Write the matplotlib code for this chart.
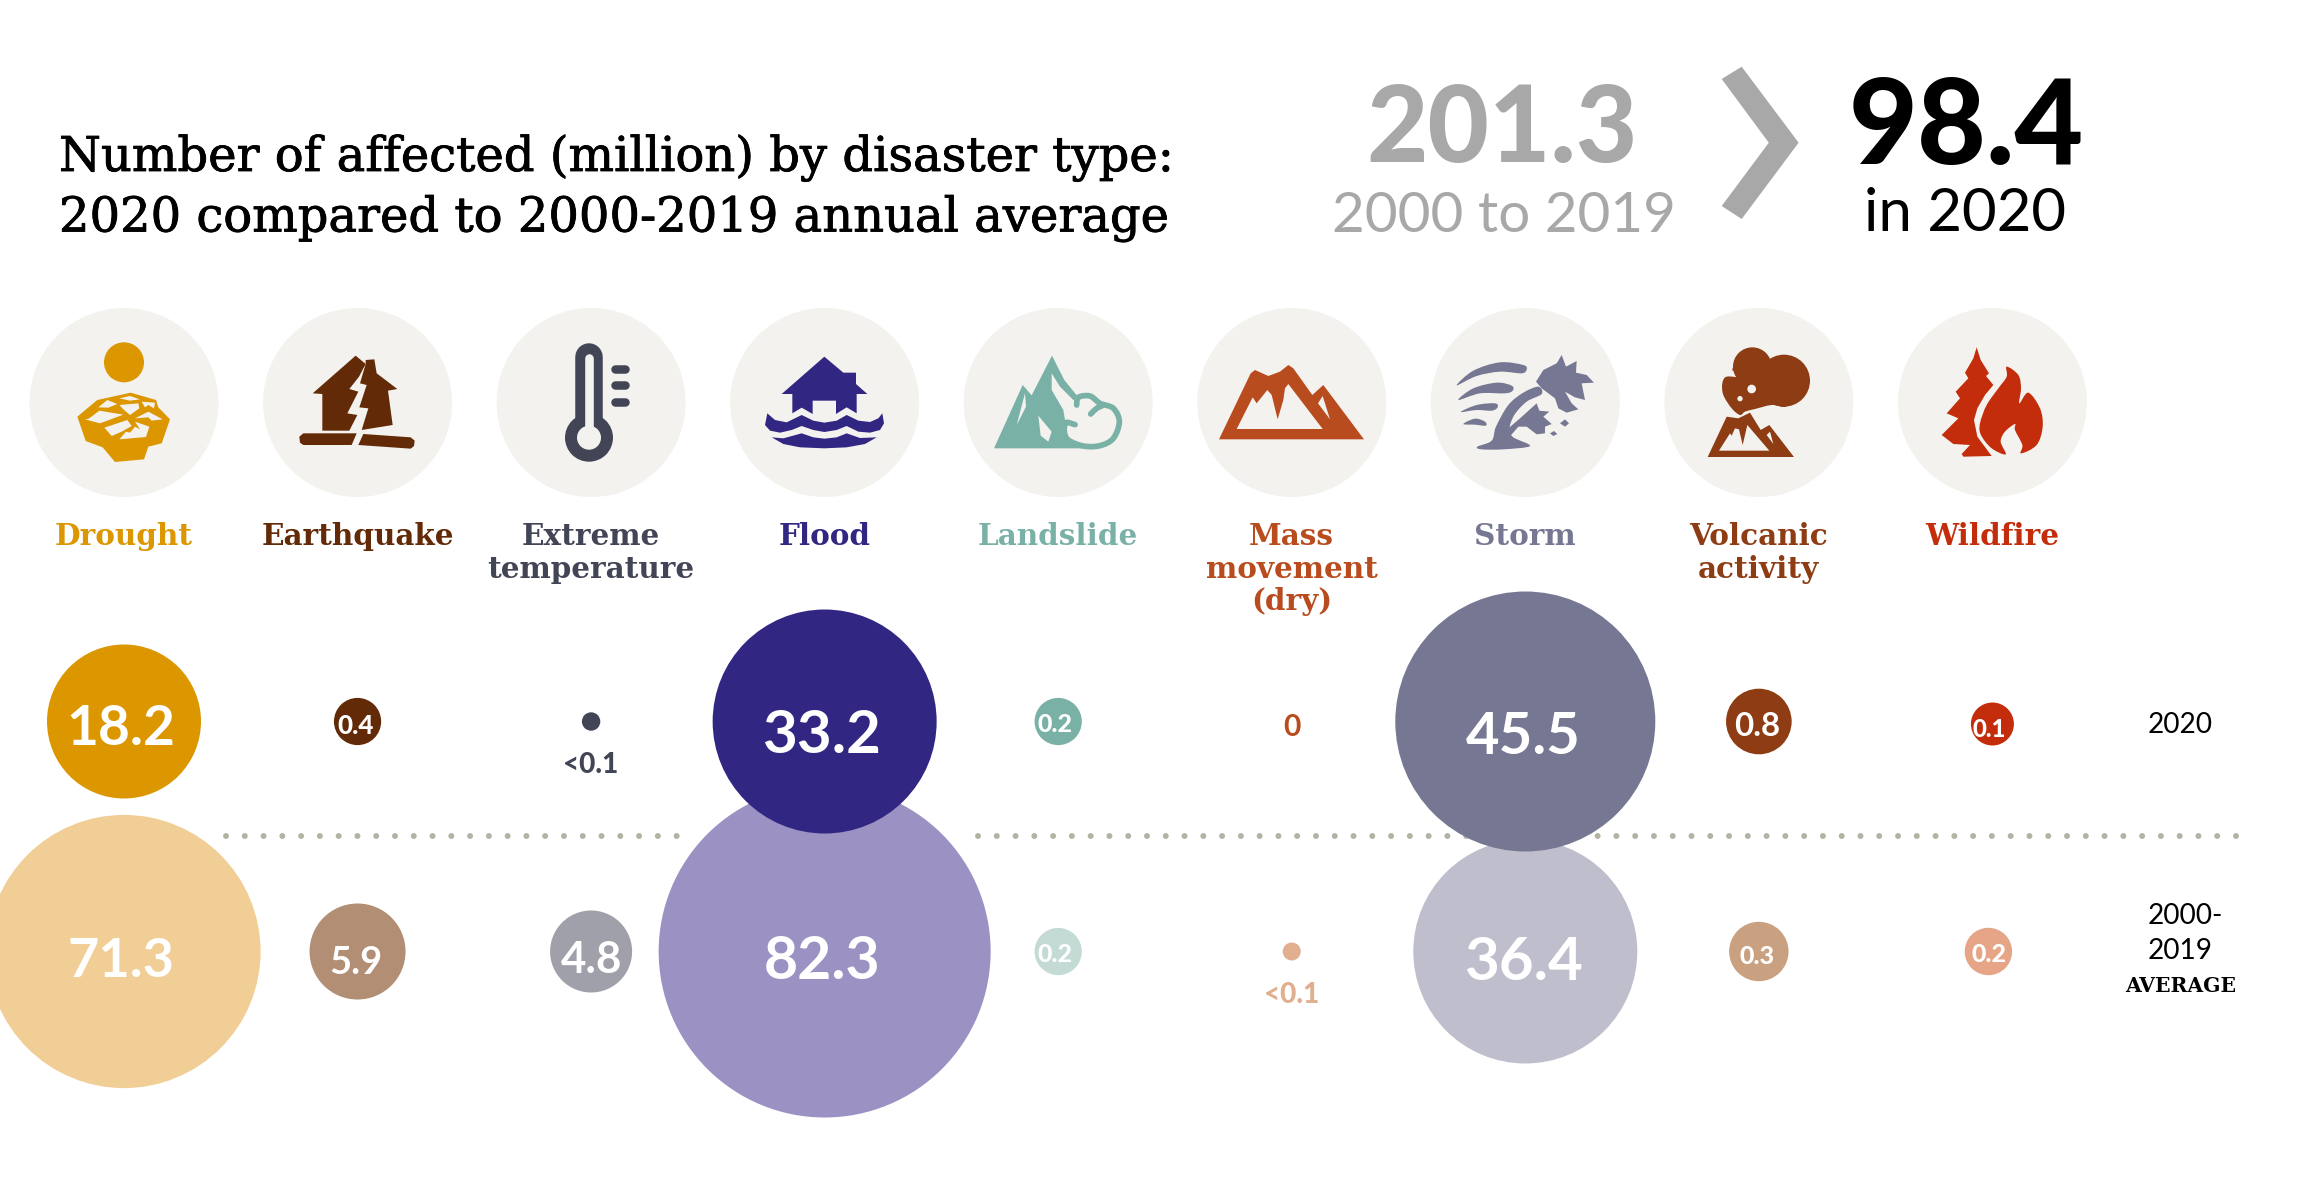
"""Number of people affected by disaster type: 2020 against the 2000-2019 average"""

from matplotlib import pyplot as plt
from matplotlib.patches import Circle, Polygon, PathPatch
from matplotlib.path import Path
import matplotlib.patheffects as pe

# Data
categories = ['Drought', 'Earthquake', 'Extreme\ntemperature', 'Flood', 'Landslide',
              'Mass\nmovement\n(dry)', 'Storm', 'Volcanic\nactivity', 'Wildfire']
labels_2020 = ['18.2', '0.4', '<0.1', '33.2', '0.2', '0', '45.5', '0.8', '0.1']
labels_avg = ['71.3', '5.9', '4.8', '82.3', '0.2', '<0.1', '36.4', '0.3', '0.2']
# bubble radius as measured, the source does not scale them strictly by value
radius_2020 = [77, 23.6, 9.2, 112, 23.6, 0, 130, 32.8, 21.5]
radius_avg = [136.6, 48, 41, 166, 23.6, 9, 112, 29.7, 23.7]
total_avg = '201.3'
total_2020 = '98.4'

# Colours
colors_2020 = ['#DC9600', '#622A06', '#424555', '#312783', '#7AB1A7',
               '#B94C1E', '#767792', '#8D3C13', '#C42D0C']
colors_avg = ['#F1CE96', '#B28E75', '#A0A0AA', '#9C91C3', '#C3DAD5',
              '#E2AE90', '#BFBECC', '#C9A080', '#E6A587']
icon_bg = '#F3F2EE'
grey = '#A8A8A8'
dot_color = '#B2B3A3'

# Layout in pixels
W, H = 2303, 1181
col_x = [124 + 233.55 * i for i in range(9)]
row_2020, row_avg = 721.5, 951.5
# label size (px) and the point the digits are centred on
size_2020 = [55, 26, 28, 60, 25, 30, 58, 33, 24]
size_avg = [54, 38, 44, 59, 25, 28, 60, 25, 25]
label_y_2020 = [725, 725, 763, 731, 723.5, 725, 733, 724, 728]
label_y_avg = [958, 960, 957, 958, 953, 993, 958, 955, 953]
label_dx = [-3, -2, 0, -3, -3, 0, -2, -2, -3]

SLAB = 'DejaVu Serif'
SANS = 'Lato'


def px(n):
    # figure is at 100 dpi, so one pixel is 0.72 pt
    return n * 0.72


def smooth_path(pts, closed=True):
    # Catmull-Rom through the points, written as bezier segments
    n = len(pts)
    verts, codes = [pts[0]], [Path.MOVETO]
    for i in range(n if closed else n - 1):
        if closed:
            p0, p1, p2, p3 = pts[i - 1], pts[i], pts[(i + 1) % n], pts[(i + 2) % n]
        else:
            p0, p1, p2, p3 = pts[max(i - 1, 0)], pts[i], pts[i + 1], pts[min(i + 2, n - 1)]
        c1 = (p1[0] + (p2[0] - p0[0]) / 6, p1[1] + (p2[1] - p0[1]) / 6)
        c2 = (p2[0] - (p3[0] - p1[0]) / 6, p2[1] - (p3[1] - p1[1]) / 6)
        verts += [c1, c2, p2]
        codes += [Path.CURVE4] * 3
    return Path(verts, codes)


fig = plt.figure(figsize=(W / 100, H / 100), dpi=100)
ax = fig.add_axes([0, 0, 1, 1])
ax.set_xlim(0, W)
ax.set_ylim(H, 0)
ax.axis('off')


def zoomed(pts, x0):
    # icon outlines were traced on a 3x crop starting at (x0, 320)
    return [(x0 + a / 3, 320 + b / 3) for a, b in pts]


def poly(pts, x0, color, z=3):
    ax.add_patch(Polygon(zoomed(pts, x0), closed=True, fc=color, ec='none', zorder=z))


def blob(pts, x0, color, z=3):
    ax.add_patch(PathPatch(smooth_path(zoomed(pts, x0)), fc=color, ec='none', zorder=z))


def stroke(pts, x0, color, lw, z=3):
    ax.add_patch(PathPatch(smooth_path(zoomed(pts, x0), closed=False), fc='none', ec=color,
                           lw=px(lw), capstyle='round', zorder=z))


def dot(a, b, r, x0, color, z=3):
    ax.add_patch(Circle((x0 + a / 3, 320 + b / 3), r / 3, fc=color, ec='none', zorder=z))


# Title and headline numbers, a thin outline gives the title the weight of the original
title_fx = [pe.withStroke(linewidth=0.6, foreground='black')]
ax.text(59, 171, 'Number of affected (million) by disaster type:', fontsize=px(48),
        family=SLAB, va='baseline', ha='left', path_effects=title_fx)
ax.text(59, 231.5, '2020 compared to 2000-2019 annual average', fontsize=px(48),
        family=SLAB, va='baseline', ha='left', path_effects=title_fx)

ax.text(1502, 162, total_avg, fontsize=px(106), family=SANS, weight='black', color=grey,
        ha='center', va='baseline')
ax.text(1504, 232, '2000 to 2019', fontsize=px(56.5), family=SANS, weight='normal', color=grey,
        ha='center', va='baseline')
ax.add_patch(Polygon([(1721.7, 79), (1741.7, 66.7), (1798.6, 142.7), (1741.7, 219),
                      (1721.7, 206), (1768.8, 142.7)], closed=True, fc=grey, ec='none'))
ax.text(1966, 164, total_2020, fontsize=px(119), family=SANS, weight='black', color='black',
        ha='center', va='baseline')
ax.text(1965, 231, 'in 2020', fontsize=px(60), family=SANS, weight='normal', color='black',
        ha='center', va='baseline')

# Icon discs and category names
for x, name, c in zip(col_x, categories, colors_2020):
    ax.add_patch(Circle((x, 402.5), 94.5, fc=icon_bg, ec='none', zorder=2))
    ax.text(x, 545, name.split('\n')[0], fontsize=px(29.5), family=SLAB, weight='bold', color=c,
            ha='center', va='baseline')
    for k, line in enumerate(name.split('\n')[1:], start=1):
        ax.text(x, 545 + 32.7 * k, line, fontsize=px(29.5), family=SLAB, weight='bold', color=c,
                ha='center', va='baseline')

# Drought
c = colors_2020[0]
dot(312, 127, 60, 20, c)
poly([(172, 290), (232, 240), (332, 218), (408, 240), (415, 262), (450, 298), (425, 370), (385, 380),
      (372, 418), (285, 426), (248, 382), (197, 363)], 20, c)
for crack in [[(205, 297), (238, 272), (310, 284), (240, 310), (195, 298), (238, 292)],
              [(253, 323), (322, 300), (335, 318), (305, 335), (275, 348)],
              [(298, 358), (318, 335), (330, 338), (345, 320), (360, 328), (345, 305), (388, 320), (378, 351)],
              [(298, 255), (355, 250), (358, 265), (330, 285), (310, 268)],
              [(298, 235), (330, 228), (360, 238), (330, 242)],
              [(235, 262), (262, 240), (292, 252), (265, 263)],
              [(365, 245), (405, 248), (402, 265), (385, 255), (375, 262)],
              [(345, 295), (385, 275), (428, 298), (395, 302), (385, 292)]]:
    poly(crack, 20, icon_bg, 4)

# Earthquake
c = colors_2020[1]
poly([(878, 220), (1007, 107), (1037, 132), (1017, 170), (988, 207), (1015, 215), (982, 280), (1012, 285),
      (988, 332), (907, 332), (907, 222)], 20, c)
poly([(1037, 132), (1037, 120), (1063, 118), (1070, 160), (1132, 207), (1104, 212), (1118, 315), (1025, 330),
      (1045, 265), (1018, 262), (1040, 195), (1020, 190)], 20, c)
poly([(850, 340), (1010, 340), (995, 375), (850, 375), (840, 368), (838, 350)], 20, c)
poly([(1030, 342), (1172, 352), (1184, 362), (1182, 378), (1172, 386), (1015, 375)], 20, c)

# Extreme temperature, drawn directly in pixels
c = colors_2020[2]
tx = 589
ax.plot([tx, tx], [357, 420], color=c, lw=px(27.5), solid_capstyle='round', zorder=3)
ax.add_patch(Circle((tx, 437.7), 24, fc=c, ec='none', zorder=3))
ax.plot([tx, tx], [358, 430], color=icon_bg, lw=px(8.6), solid_capstyle='round', zorder=4)
ax.add_patch(Circle((tx, 437.7), 12, fc=icon_bg, ec='none', zorder=4))
for ty in [368.7, 385.3, 402]:
    ax.plot([615, 624.5], [ty, ty], color=c, lw=px(8.5), solid_capstyle='round', zorder=3)

# Flood
c = colors_2020[3]
poly([(155, 222), (283, 110), (340, 158), (378, 158), (378, 192), (412, 222), (380, 222), (380, 280),
      (350, 262), (318, 282), (318, 242), (248, 242), (248, 282), (215, 263), (187, 280), (187, 222)], 730, c)
poly([(112, 280), (135, 300), (170, 307), (215, 285), (250, 302), (283, 308), (320, 302), (350, 285),
      (385, 302), (420, 306), (445, 295), (457, 280), (462, 310), (450, 330), (420, 338), (385, 335),
      (350, 318), (320, 330), (283, 336), (250, 330), (215, 318), (185, 330), (150, 338), (120, 332),
      (105, 315)], 730, c)
poly([(125, 352), (160, 355), (215, 340), (250, 352), (283, 356), (320, 352), (350, 340), (390, 354),
      (440, 352), (405, 372), (350, 382), (283, 385), (210, 382), (160, 372)], 730, c)

# Landslide
c = colors_2020[4]
poly([(792, 385), (878, 195), (905, 226), (966, 107), (1003, 180), (1045, 232), (1030, 240), (990, 200),
      (965, 160), (965, 210), (1000, 270), (1005, 300), (1003, 345), (1020, 370), (1060, 385)], 730, c)
poly([(860, 315), (885, 220), (888, 260)], 730, icon_bg, 4)
poly([(925, 287), (965, 335), (955, 365), (932, 347)], 730, icon_bg, 4)
stroke([(1040, 255), (1045, 232), (1080, 228), (1110, 250), (1150, 265), (1168, 305), (1150, 355),
        (1110, 377), (1060, 378), (1015, 360), (1003, 335), (1008, 308), (1035, 314)], 730, c, 5.7)
stroke([(1082, 282), (1100, 265), (1115, 258)], 730, c, 5.7)

# Mass movement
c = colors_2020[5]
poly([(117, 358), (212, 160), (225, 150), (265, 168), (300, 155), (325, 135), (340, 145), (397, 225),
      (430, 195), (552, 358)], 1180, c)
poly([(170, 327), (218, 232), (230, 250), (262, 210), (275, 225), (293, 298), (310, 240), (315, 205),
      (325, 192), (428, 327)], 1180, icon_bg, 4)
poly([(414, 250), (428, 228), (450, 298)], 1180, icon_bg, 4)

# Storm
c = colors_2020[6]
blob([(830, 196), (880, 152), (960, 127), (1030, 135), (1040, 148), (1025, 160), (960, 155), (890, 168)], 1180, c)
blob([(835, 240), (880, 205), (950, 188), (995, 197), (998, 212), (975, 220), (900, 220)], 1180, c)
blob([(842, 276), (890, 255), (945, 250), (953, 262), (935, 272), (890, 270)], 1180, c)
blob([(850, 312), (885, 296), (915, 305), (917, 317), (885, 314)], 1180, c)
blob([(892, 380), (935, 362), (948, 320), (985, 255), (1030, 218), (1075, 200), (1085, 222), (1040, 245),
      (1003, 285), (988, 328), (1000, 352), (1050, 378), (970, 388), (905, 388)], 1180, c)
poly([(1068, 185), (1090, 150), (1130, 130), (1145, 105), (1158, 140), (1190, 123), (1188, 158), (1220, 165),
      (1242, 188), (1205, 190), (1215, 240), (1185, 232), (1155, 215), (1175, 250), (1195, 268), (1160, 278),
      (1135, 265), (1125, 235), (1085, 205)], 1180, c)
poly([(1020, 295), (1070, 250), (1078, 272), (1108, 275), (1090, 290), (1115, 312), (1095, 320), (1095, 340),
      (1070, 343), (1040, 320), (1015, 320), (985, 355), (985, 325)], 1180, c)
poly([(1140, 310), (1155, 298), (1167, 310), (1155, 320)], 1180, c)
poly([(1110, 340), (1122, 333), (1132, 342), (1120, 348)], 1180, c)

# Volcanic activity
c = colors_2020[7]
dot(187, 140, 58, 1690, c)
dot(282, 182, 78, 1690, c)
blob([(127, 150), (150, 120), (225, 120), (280, 200), (290, 258), (245, 255), (195, 267), (165, 275),
      (150, 285), (125, 265), (100, 225), (97, 190), (110, 170), (155, 172), (150, 155)], 1690, c)
dot(185, 207, 13, 1690, icon_bg, 4)
dot(150, 236, 8, 1690, icon_bg, 4)
poly([(53, 411), (110, 290), (145, 295), (180, 278), (212, 330), (238, 315), (312, 411)], 1690, c)
poly([(87, 392), (120, 340), (125, 347), (135, 325), (147, 328), (158, 375), (172, 315), (238, 392)], 1690, icon_bg, 4)
poly([(230, 345), (240, 335), (250, 372)], 1690, icon_bg, 4)

# Wildfire
c = colors_2020[8]
poly([(860, 82), (872, 120), (897, 160), (888, 168), (910, 195), (885, 225), (862, 265), (852, 300), (862, 350),
      (905, 408), (820, 410), (815, 402), (840, 375), (790, 372), (755, 345), (790, 310), (805, 295), (770, 280),
      (810, 235), (797, 215), (835, 175), (825, 158), (850, 115)], 1690, c)
blob([(950, 140), (985, 165), (993, 205), (988, 250), (1015, 218), (1050, 265), (1058, 320), (1040, 375),
      (993, 400), (997, 375), (975, 330), (975, 312), (945, 335), (932, 365), (947, 403), (905, 385), (873, 345),
      (870, 310), (890, 255), (925, 205), (950, 170)], 1690, c)

# Dotted separator, the bubbles sit on top of it
for x_from, x_to in [(226, 678), (978, 2236)]:
    ax.plot([x_from, x_to], [836, 836], color=dot_color, lw=px(6), dash_capstyle='round',
            linestyle=(0, (0.001, 18.77 / 6)), zorder=1)

# Bubbles: the average row first, 2020 overlaps it
nudge_2020 = {8: (0, 2.5)}
nudge_avg = {8: (-4, 0)}
for i, x in enumerate(col_x):
    dx, dy = nudge_avg.get(i, (0, 0))
    ax.add_patch(Circle((x + dx, row_avg + dy), radius_avg[i], fc=colors_avg[i], ec='none', zorder=5))
    dx, dy = nudge_2020.get(i, (0, 0))
    if radius_2020[i] > 0:
        ax.add_patch(Circle((x + dx, row_2020 + dy), radius_2020[i], fc=colors_2020[i], ec='none', zorder=6))


def bubble_label(x, y, text, size, color):
    # centred on the digits so baseline = centre + 0.36 em; small ones are heavier
    ax.text(x, y + 0.36 * size, text, fontsize=px(size), family=SANS,
            weight='black' if size < 30 else 'bold', color=color, ha='center', va='baseline', zorder=7)


for i, x in enumerate(col_x):
    outside = labels_2020[i] in ('<0.1', '0')
    bubble_label(x + label_dx[i], label_y_2020[i], labels_2020[i], size_2020[i],
                 colors_2020[i] if outside else 'white')
    outside = labels_avg[i] == '<0.1'
    bubble_label(x + label_dx[i], label_y_avg[i], labels_avg[i], size_avg[i],
                 colors_avg[i] if outside else 'white')

# Row names on the right
ax.text(2180, 733, '2020', fontsize=px(28), family=SANS, ha='center', va='baseline')
ax.text(2185, 924, '2000-', fontsize=px(28), family=SANS, ha='center', va='baseline')
ax.text(2180, 958.7, '2019', fontsize=px(28), family=SANS, ha='center', va='baseline')
ax.text(2181, 992, 'AVERAGE', fontsize=px(20.3), family=SLAB, weight='bold', ha='center', va='baseline')

fig.savefig('out.png', dpi=100, facecolor='white')
